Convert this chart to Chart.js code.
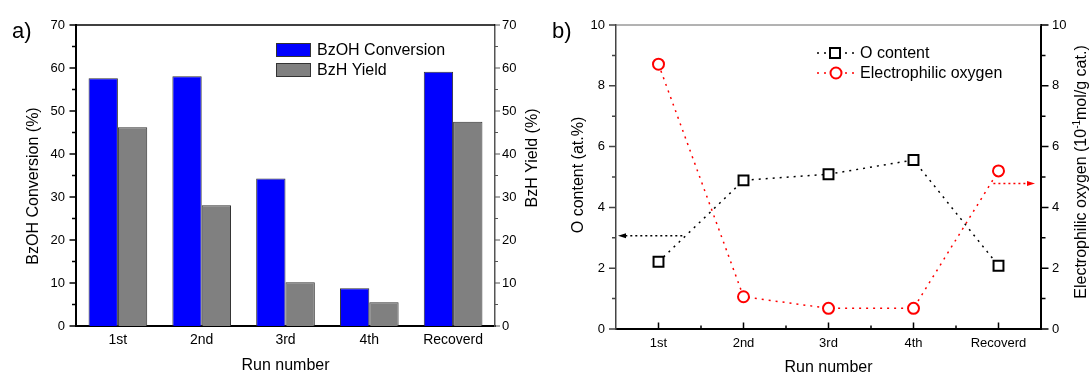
<!DOCTYPE html>
<html>
<head>
<meta charset="utf-8">
<script src="https://cdn.jsdelivr.net/npm/chart.js@4.4.0/dist/chart.umd.min.js"></script>
<style>
  html, body { margin: 0; padding: 0; background: #fff; }
  #wrap { display: flex; width: 1092px; height: 377px; }
  canvas { display: block; }
</style>
</head>
<body>
<div id="wrap">
  <canvas id="chartA" width="545" height="377"></canvas>
  <canvas id="chartB" width="547" height="377"></canvas>
</div>
<script>
const runs = ['1st', '2nd', '3rd', '4th', 'Recoverd']

// panel a (%)
const bzohConversion = [57.6, 58.1, 34.3, 8.8, 59.1]
const bzhYield = [46.2, 28.1, 10.2, 5.5, 47.5]

// panel b
const oContent = [2.21, 4.89, 5.09, 5.56, 2.08]            // at.%
const electrophilicOxygen = [8.71, 1.06, 0.68, 0.68, 5.2]  // 10^-1 mol/g cat.

// arrows: start on the x axis (category position) and level on the target axis
const oContentArrow = { from: 0.28, y: 3.07 }
const electroArrow = { from: 3.94, y: 4.79 }

const FONT = '"Liberation Sans", Arial, sans-serif'
Chart.defaults.font.family = FONT
Chart.defaults.color = '#000'

/** Minor / major tick marks drawn from the scales. */
const tickMarks = {
  id: 'tickMarks',
  afterDraw (chart, args, opts) {
    const { ctx, chartArea } = chart
    ctx.save()
    opts.marks.forEach((m) => {
      const scale = chart.scales[m.axis]
      ctx.strokeStyle = m.color
      ctx.lineWidth = m.width
      ctx.beginPath()
      m.values.forEach((v) => {
        const major = m.isMajor(v)
        const len = major ? m.len : m.minorLen
        if (m.axis === 'x') {
          const x = scale.getPixelForValue(v)
          ctx.moveTo(x, chartArea.bottom)
          ctx.lineTo(x, chartArea.bottom - len)
        } else {
          const y = scale.getPixelForValue(v)
          const edge = m.side === 'left' ? chartArea.left : chartArea.right
          ctx.moveTo(edge, y)
          ctx.lineTo(m.side === 'left' ? edge - len : edge + len, y)
        }
      })
      ctx.stroke()
    })
    ctx.restore()
  }
}

const steps = (max, step) => Array.from({ length: Math.round(max / step) + 1 }, (_, i) => i * step)

/** Panel letter, top frame line and vertical axis titles. */
const decor = {
  id: 'decor',
  afterDraw (chart, args, opts) {
    const { ctx, chartArea } = chart
    ctx.save()
    ctx.strokeStyle = opts.topColor
    ctx.lineWidth = opts.topWidth
    ctx.beginPath()
    ctx.moveTo(chartArea.left, chartArea.top)
    ctx.lineTo(chartArea.right, chartArea.top)
    ctx.stroke()

    ctx.fillStyle = '#000'
    ctx.font = `22px ${FONT}`
    ctx.textBaseline = 'alphabetic'
    ctx.textAlign = 'left'
    ctx.fillText(opts.label, opts.labelX, 38)

    opts.titles.forEach((t) => {
      ctx.save()
      ctx.translate(t.x, t.y)
      ctx.rotate(-Math.PI / 2)
      ctx.textBaseline = 'middle'
      ctx.textAlign = 'left'
      const parts = t.parts.map((p) => {
        ctx.font = `${p.size}px ${FONT}`
        return { ...p, w: ctx.measureText(p.text).width }
      })
      let x = -parts.reduce((s, p) => s + p.w, 0) / 2
      parts.forEach((p) => {
        ctx.font = `${p.size}px ${FONT}`
        ctx.fillText(p.text, x, p.dy || 0)
        x += p.w
      })
      ctx.restore()
    })
    ctx.restore()
  }
}

const boxLegend = {
  id: 'boxLegend',
  afterDraw (chart, args, opts) {
    const { ctx } = chart
    ctx.save()
    ctx.font = `16px ${FONT}`
    ctx.textBaseline = 'middle'
    opts.items.forEach((it, i) => {
      const y = opts.y + i * opts.gap
      ctx.fillStyle = it.color
      ctx.fillRect(opts.x, y, 35, 14)
      ctx.strokeStyle = '#333'
      ctx.lineWidth = 1
      ctx.strokeRect(opts.x + 0.5, y + 0.5, 34, 13)
      ctx.fillStyle = '#000'
      ctx.fillText(it.text, opts.x + 41, y + 7.5)
    })
    ctx.restore()
  }
}

const lineLegend = {
  id: 'lineLegend',
  afterDraw (chart, args, opts) {
    const { ctx } = chart
    ctx.save()
    ctx.font = `16px ${FONT}`
    ctx.textBaseline = 'middle'
    opts.items.forEach((it, i) => {
      const y = opts.y + i * opts.gap
      ctx.strokeStyle = it.color
      ctx.lineWidth = 1.5
      ctx.setLineDash([2, 5])
      ctx.beginPath()
      ctx.moveTo(opts.x, y)
      ctx.lineTo(opts.x + 40, y)
      ctx.stroke()
      ctx.setLineDash([])
      ctx.lineWidth = 2
      ctx.fillStyle = '#fff'
      ctx.beginPath()
      if (it.style === 'rect') {
        ctx.rect(opts.x + 13, y - 5, 10, 10)
      } else {
        ctx.arc(opts.x + 19, y, 5.5, 0, Math.PI * 2)
      }
      ctx.fill()
      ctx.stroke()
      ctx.fillStyle = '#000'
      ctx.fillText(it.text, opts.x + 43, y + 1)
    })
    ctx.restore()
  }
}

const arrows = {
  id: 'arrows',
  afterDatasetsDraw (chart, args, opts) {
    const { ctx, chartArea, scales } = chart
    ctx.save()
    opts.items.forEach((a) => {
      const y = scales[a.axis].getPixelForValue(a.y)
      const x0 = scales.x.getPixelForValue(a.from)
      const dir = a.axis === 'y' ? -1 : 1
      const tip = a.axis === 'y' ? chartArea.left + 2 : chartArea.right - 6
      const head = tip - dir * 8
      ctx.strokeStyle = a.color
      ctx.fillStyle = a.color
      ctx.lineWidth = 1.5
      ctx.setLineDash([2, 3])
      ctx.beginPath()
      ctx.moveTo(x0, y)
      ctx.lineTo(head, y)
      ctx.stroke()
      ctx.setLineDash([])
      ctx.beginPath()
      ctx.moveTo(tip, y)
      ctx.lineTo(head, y - 2.5)
      ctx.lineTo(head, y + 2.5)
      ctx.closePath()
      ctx.fill()
    })
    ctx.restore()
  }
}

const fixed = (size) => (scale) => {
  if (scale.isHorizontal()) scale.height = size
  else scale.width = size
}

// ---------- panel a ----------
new Chart(document.getElementById('chartA'), {
  type: 'bar',
  data: {
    labels: runs,
    datasets: [
      {
        label: 'BzOH Conversion',
        data: bzohConversion,
        yAxisID: 'y',
        backgroundColor: '#0000ff',
        borderColor: '#333',
        borderWidth: 1
      },
      {
        label: 'BzH Yield',
        data: bzhYield,
        yAxisID: 'y1',
        backgroundColor: '#808080',
        borderColor: '#333',
        borderWidth: 1
      }
    ]
  },
  options: {
    responsive: false,
    animation: false,
    layout: { padding: { top: 25, left: 0, right: 0, bottom: 0 } },
    datasets: { bar: { categoryPercentage: 0.7, barPercentage: 1 } },
    plugins: {
      legend: { display: false },
      tooltip: { enabled: false },
      boxLegend: {
        x: 276,
        y: 43,
        gap: 20,
        items: [
          { text: 'BzOH Conversion', color: '#0000ff' },
          { text: 'BzH Yield', color: '#808080' }
        ]
      },
      decor: {
        label: 'a)',
        labelX: 12,
        topColor: '#000',
        topWidth: 1.5,
        titles: [
          { x: 34, y: 186, parts: [{ text: 'BzOH Conversion (%)', size: 16 }] },
          { x: 533, y: 158, parts: [{ text: 'BzH Yield (%)', size: 16 }] }
        ]
      },
      tickMarks: {
        marks: [
          { axis: 'y', side: 'left', values: steps(70, 5), isMajor: (v) => v % 10 === 0, len: 6.5, minorLen: 4, color: '#000', width: 1.5 },
          { axis: 'y1', side: 'right', values: steps(70, 5), isMajor: (v) => v % 10 === 0, len: 5, minorLen: 3, color: '#555', width: 1 }
        ]
      }
    },
    scales: {
      x: {
        afterFit: fixed(51),
        grid: { display: false, drawTicks: false },
        border: { color: '#000', width: 2 },
        ticks: { font: { size: 14 }, padding: 5.5 },
        title: { display: true, text: 'Run number', font: { size: 16 }, padding: { top: 0, bottom: 2 } }
      },
      y: {
        position: 'left',
        min: 0,
        max: 70,
        afterFit: fixed(76),
        grid: { display: false, drawTicks: false },
        border: { color: '#000', width: 2 },
        ticks: { stepSize: 10, font: { size: 13 }, padding: 11 }
      },
      y1: {
        position: 'right',
        min: 0,
        max: 70,
        afterFit: fixed(50),
        grid: { display: false, drawTicks: false },
        border: { color: '#555', width: 1.5 },
        ticks: { stepSize: 10, font: { size: 13 }, padding: 7 }
      }
    }
  },
  plugins: [tickMarks, decor, boxLegend]
})

// ---------- panel b ----------
new Chart(document.getElementById('chartB'), {
  type: 'line',
  data: {
    labels: runs,
    datasets: [
      {
        label: 'O content',
        data: oContent,
        yAxisID: 'y',
        borderColor: '#000',
        borderWidth: 1.5,
        borderDash: [2, 5],
        pointStyle: 'rect',
        pointRadius: 7,
        pointBorderWidth: 2,
        pointBorderColor: '#000',
        pointBackgroundColor: '#fff'
      },
      {
        label: 'Electrophilic oxygen',
        data: electrophilicOxygen,
        yAxisID: 'y1',
        borderColor: '#ff0000',
        borderWidth: 1.5,
        borderDash: [2, 5],
        pointStyle: 'circle',
        pointRadius: 5.5,
        pointBorderWidth: 2,
        pointBorderColor: '#ff0000',
        pointBackgroundColor: '#fff'
      }
    ]
  },
  options: {
    responsive: false,
    animation: false,
    layout: { padding: { top: 25, left: 0, right: 0, bottom: 0 } },
    plugins: {
      legend: { display: false },
      tooltip: { enabled: false },
      lineLegend: {
        x: 272,
        y: 53,
        gap: 20,
        items: [
          { text: 'O content', color: '#000', style: 'rect' },
          { text: 'Electrophilic oxygen', color: '#ff0000', style: 'circle' }
        ]
      },
      arrows: {
        items: [
          { axis: 'y', from: oContentArrow.from, y: oContentArrow.y, color: '#000' },
          { axis: 'y1', from: electroArrow.from, y: electroArrow.y, color: '#ff0000' }
        ]
      },
      decor: {
        label: 'b)',
        labelX: 7,
        topColor: '#666',
        topWidth: 1,
        titles: [
          { x: 34, y: 175, parts: [{ text: 'O content (at.%)', size: 16 }] },
          {
            x: 537,
            y: 172,
            parts: [
              { text: 'Electrophilic oxygen (10', size: 16 },
              { text: '-1', size: 10, dy: -5 },
              { text: 'mol/g cat.)', size: 16 }
            ]
          }
        ]
      },
      tickMarks: {
        marks: [
          { axis: 'y', side: 'left', values: steps(10, 1), isMajor: (v) => v % 2 === 0, len: 7, minorLen: 4, color: '#444', width: 1.5 },
          { axis: 'y1', side: 'right', values: steps(10, 1), isMajor: (v) => v % 2 === 0, len: 7.5, minorLen: 4.5, color: '#000', width: 1.5 },
          { axis: 'x', values: [0, 0.5, 1, 1.5, 2, 2.5, 3, 3.5, 4], isMajor: (v) => Number.isInteger(v), len: 6.5, minorLen: 3.5, color: '#000', width: 1.5 }
        ]
      }
    },
    scales: {
      x: {
        offset: true,
        afterFit: fixed(48),
        grid: { display: false, drawTicks: false, offset: true },
        border: { color: '#000', width: 2 },
        ticks: { font: { size: 13 }, padding: 6.5 },
        title: { display: true, text: 'Run number', font: { size: 16 }, padding: { top: 0, bottom: 0 } }
      },
      y: {
        position: 'left',
        min: 0,
        max: 10,
        afterFit: fixed(71),
        grid: { display: false, drawTicks: false },
        border: { color: '#444', width: 1.5 },
        ticks: { stepSize: 2, font: { size: 13 }, padding: 11 }
      },
      y1: {
        position: 'right',
        min: 0,
        max: 10,
        afterFit: fixed(51),
        grid: { display: false, drawTicks: false },
        border: { color: '#000', width: 2 },
        ticks: { stepSize: 2, font: { size: 13 }, padding: 11 }
      }
    }
  },
  plugins: [tickMarks, decor, lineLegend, arrows]
})
</script>
</body>
</html>
